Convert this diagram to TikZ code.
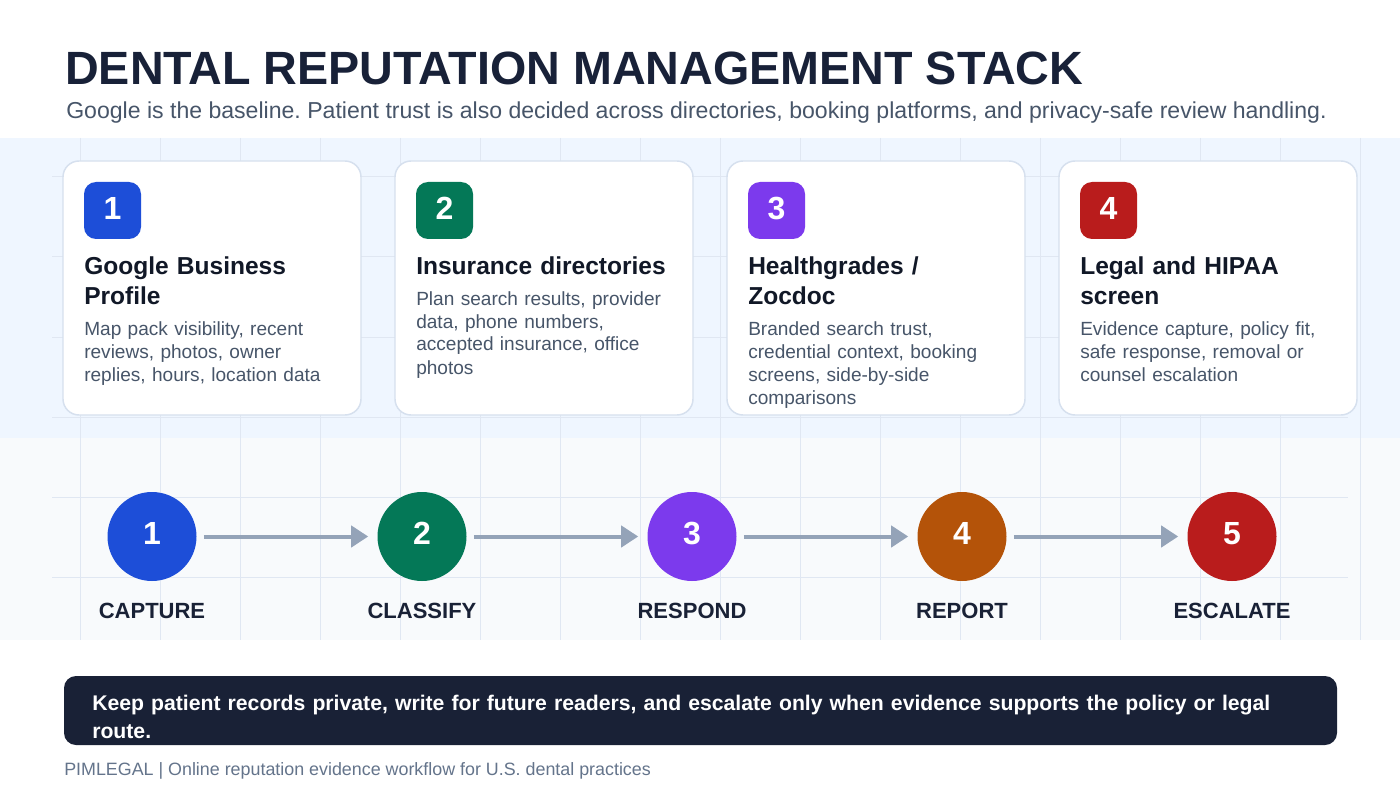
\documentclass[tikz,border=0pt]{standalone}
\usepackage{fontspec}
\setmainfont{Liberation Sans}
\usetikzlibrary{arrows.meta}
\frenchspacing
\definecolor{titleink}{RGB}{24,33,56}
\definecolor{slate}{RGB}{71,85,105}
\definecolor{muted}{RGB}{100,116,139}
\definecolor{inkdark}{RGB}{17,24,39}
\definecolor{bandtop}{RGB}{239,246,255}
\definecolor{bandbot}{RGB}{248,250,252}
\definecolor{gridline}{RGB}{224,231,242}
\definecolor{cardline}{RGB}{214,224,238}
\definecolor{arrowgray}{RGB}{148,163,184}
\definecolor{navy}{RGB}{25,33,54}
\definecolor{cblue}{RGB}{29,78,216}
\definecolor{cgreen}{RGB}{4,120,87}
\definecolor{cpurple}{RGB}{124,58,237}
\definecolor{cred}{RGB}{185,28,28}
\definecolor{corange}{RGB}{180,83,9}

\begin{document}
\begin{tikzpicture}[x=0.75pt, y=-0.75pt, >=Triangle,
    card/.style={draw=cardline, line width=1.1pt, fill=white, rounded corners=12pt},
    badge/.style={fill=#1, rounded corners=9pt, minimum size=42.75pt, inner sep=0pt,
                  text height=17.2pt, text depth=3pt,
                  text=white, font=\bfseries\fontsize{24}{24}\selectfont},
    cardtitle/.style={anchor=base west, align=left, text width=215pt, inner sep=0pt,
                      text=inkdark, font=\bfseries\fontsize{18.4}{22.5}\selectfont},
    cardbody/.style={anchor=base west, align=left, text width=215pt, inner sep=0pt,
                     text=slate, font=\fontsize{14.3}{17.25}\selectfont},
    stepdot/.style={circle, fill=#1, minimum size=66.75pt, inner sep=0pt,
                    text height=17.2pt, text depth=4.5pt,
                    text=white, font=\bfseries\fontsize{24}{24}\selectfont},
    steplabel/.style={anchor=base, inner sep=0pt, text=navy,
                      font=\bfseries\fontsize{16.5}{18}\selectfont},
    flow/.style={->, draw=arrowgray, line width=3pt, shorten <=5.25pt, shorten >=6.75pt,
                 >={Triangle[length=12.75pt, width=15.75pt]}}]
    \useasboundingbox (0,0) rectangle (1400,788);

    % Background bands and grid
    \fill[white] (0,0) rectangle (1400,788);
    \fill[bandtop] (0,138) rectangle (1400,438);
    \fill[bandbot] (0,438) rectangle (1400,640);
    \foreach \gx in {80,160,...,1360}
        \draw[gridline, line width=0.75pt] (\gx,138) -- (\gx,640);
    \foreach \gy in {177,257,...,577}
        \draw[gridline, line width=0.75pt] (52,\gy) -- (1348,\gy);

    % Heading
    \node[anchor=base west, inner sep=0pt, text=titleink, font=\bfseries\fontsize{35}{40}\selectfont]
        (title) at (65,85) {DENTAL REPUTATION MANAGEMENT STACK};
    \node[anchor=base west, inner sep=0pt, text=slate, font=\fontsize{17.3}{20}\selectfont]
        (subtitle) at (66,119) {Google is the baseline. Patient trust is also decided across directories, booking platforms, and privacy-safe review handling.};

    % Cards
    \draw[card] (63,161) rectangle (361,415);
    \draw[card] (395,161) rectangle (693,415);
    \draw[card] (727,161) rectangle (1025,415);
    \draw[card] (1059,161) rectangle (1357,415);

    \node[badge=cblue] (b1) at (112.5,210.5) {1};
    \node[badge=cgreen] (b2) at (444.5,210.5) {2};
    \node[badge=cpurple] (b3) at (776.5,210.5) {3};
    \node[badge=cred] (b4) at (1108.5,210.5) {4};

    \node[cardtitle] (t1) at (84,274) {Google Business\\Profile};
    \node[cardbody] (d1) at (84,335) {Map pack visibility, recent\\reviews, photos, owner\\replies, hours, location data};
    \node[cardtitle] (t2) at (416,274) {Insurance directories};
    \node[cardbody] (d2) at (416,305) {Plan search results, provider\\data, phone numbers,\\accepted insurance, office\\photos};
    \node[cardtitle] (t3) at (748,274) {Healthgrades /\\Zocdoc};
    \node[cardbody] (d3) at (748,335) {Branded search trust,\\credential context, booking\\screens, side-by-side\\comparisons};
    \node[cardtitle] (t4) at (1080,274) {Legal and HIPAA\\screen};
    \node[cardbody] (d4) at (1080,335) {Evidence capture, policy fit,\\safe response, removal or\\counsel escalation};

    % Workflow steps
    \node[stepdot=cblue] (s1) at (152,536.5) {1};
    \node[stepdot=cgreen] (s2) at (422,536.5) {2};
    \node[stepdot=cpurple] (s3) at (692,536.5) {3};
    \node[stepdot=corange] (s4) at (962,536.5) {4};
    \node[stepdot=cred] (s5) at (1232,536.5) {5};

    \draw[flow] (s1) -- (s2);
    \draw[flow] (s2) -- (s3);
    \draw[flow] (s3) -- (s4);
    \draw[flow] (s4) -- (s5);

    \node[steplabel] (l1) at (152,618) {CAPTURE};
    \node[steplabel] (l2) at (422,618) {CLASSIFY};
    \node[steplabel] (l3) at (692,618) {RESPOND};
    \node[steplabel] (l4) at (962,618) {REPORT};
    \node[steplabel] (l5) at (1232,618) {ESCALATE};

    % Footer note
    \fill[navy, rounded corners=9pt] (64,676) rectangle (1337,745);
    \node[anchor=base west, align=left, text width=960pt, inner sep=0pt, text=white,
          font=\bfseries\fontsize{15.9}{21}\selectfont]
        (note) at (92,710) {Keep patient records private, write for future readers, and escalate only when evidence supports the policy or legal\\route.};
    \node[anchor=base west, inner sep=0pt, text=muted, font=\fontsize{13.4}{15}\selectfont]
        (credit) at (64,775) {PIMLEGAL | Online reputation evidence workflow for U.S. dental practices};
\end{tikzpicture}
\end{document}
